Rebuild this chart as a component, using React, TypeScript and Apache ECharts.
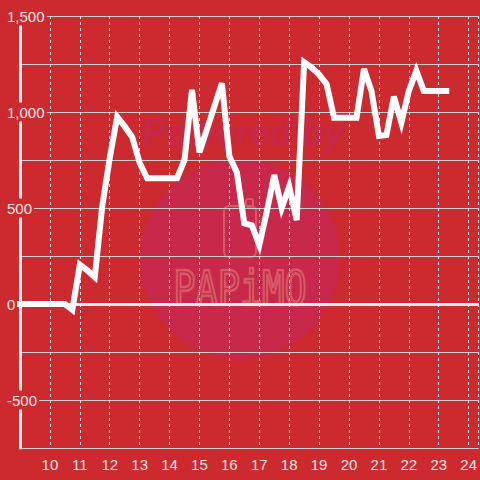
import React, { useEffect, useRef } from "react";
import * as echarts from "echarts";

const hours = [
  9, 9.25, 9.5, 9.75, 10, 10.25, 10.5, 10.75, 11, 11.25, 11.5, 11.75,
  12, 12.25, 12.5, 12.75, 13, 13.25, 13.5, 13.75, 14, 14.25, 14.5, 14.75,
  15, 15.25, 15.5, 15.75, 16, 16.25, 16.5, 16.75, 17, 17.25, 17.5, 17.75,
  18, 18.25, 18.5, 18.75, 19, 19.25, 19.5, 19.75, 20, 20.25, 20.5, 20.75,
  21, 21.25, 21.5, 21.75, 22, 22.25, 22.5, 22.75, 23, 23.25,
];
const values = [
  0, 0, 0, 0, 0, 0, 0, -30, 205, 175, 140, 510,
  760, 975, 925, 870, 735, 655, 655, 655, 655, 655, 750, 1115,
  790, 910, 1030, 1150, 770, 685, 420, 410, 307, 480, 672, 500,
  612, 437, 1260, 1232, 1195, 1145, 970, 970, 970, 970, 1224, 1110,
  875, 880, 1080, 945, 1110, 1215, 1110, 1110, 1110, 1110,
];
const yLabelValues = [1500, 1000, 500, 0, -500];
const xLabelValues = [10, 11, 12, 13, 14, 15, 16, 17, 18, 19, 20, 21, 22, 23, 24];

const BG = "#cc2a2f";
const LABEL = "#f5e4e4";

export default function App() {
  const ref = useRef<HTMLDivElement>(null);
  useEffect(() => {
    if (!ref.current) return;
    const chart = echarts.init(ref.current, undefined, { renderer: "svg" });
    const data = hours.map((h, i) => [h, values[i]]);
    chart.setOption({
      animation: false,
      backgroundColor: BG,
      textStyle: { fontFamily: "Liberation Sans, Arial, sans-serif" },
      grid: { left: 20, right: 0, top: 16, bottom: 32, containLabel: false },
      graphic: [
        {
          type: "circle",
          z: -10,
          shape: { cx: 240, cy: 259, r: 100 },
          style: { fill: "#c8284a" },
        },
        {
          type: "text",
          z: -9,
          x: 243,
          y: 132,
          style: {
            text: "Powered by",
            fill: "#c8284a",
            font: "italic bold 36px Liberation Sans, Arial, sans-serif",
            textAlign: "center",
            textVerticalAlign: "middle",
          },
        },
        {
          type: "rect",
          z: -9,
          shape: { x: 224, y: 206, width: 32, height: 51, r: 5 },
          style: { fill: "none", stroke: "#d65a66", lineWidth: 2 },
        },
        {
          type: "rect",
          z: -9,
          shape: { x: 246, y: 199, width: 7, height: 8, r: 2 },
          style: { fill: "none", stroke: "#d65a66", lineWidth: 2 },
        },
        {
          type: "text",
          z: -9,
          x: 240,
          y: 288,
          scaleY: 1.3,
          style: {
            text: "PAPiMO",
            fill: "none",
            stroke: "#d65a66",
            lineWidth: 2,
            font: "37px DejaVu Sans Mono, monospace",
            textAlign: "center",
            textVerticalAlign: "middle",
          },
        },
      ],
      xAxis: {
        type: "value",
        min: 9,
        max: 24.3333,
        interval: 1,
        axisLine: { show: false },
        axisTick: { show: false },
        splitLine: {
          show: true,
          lineStyle: { color: "#e6dede", width: 1, type: [3, 3] },
        },
        axisLabel: {
          color: LABEL,
          fontSize: 15,
          margin: 9,
          showMaxLabel: false,
          formatter: (v: number) => (xLabelValues.includes(v) ? String(v) : ""),
        },
      },
      yAxis: {
        type: "value",
        min: -750,
        max: 1500,
        interval: 250,
        axisLine: { show: true, lineStyle: { color: "#f2eeee", width: 3 } },
        axisTick: { show: false },
        splitLine: { show: true, lineStyle: { color: "#cfcaca", width: 1 } },
        axisLabel: {
          inside: true,
          margin: -15,
          color: LABEL,
          fontSize: 15,
          backgroundColor: BG,
          padding: [2, 2, 2, 2],
          formatter: (v: number) =>
            yLabelValues.includes(v) ? v.toLocaleString("en-US") : "",
        },
      },
      series: [
        {
          type: "line",
          data,
          symbol: "none",
          z: 5,
          lineStyle: { color: "#ffffff", width: 6, cap: "square", join: "miter" },
          markLine: {
            silent: true,
            symbol: ["none", "none"],
            label: { show: false },
            lineStyle: { color: "#f2eeee", width: 3, type: "solid" },
            data: [{ yAxis: 0 }],
            z: 3,
          },
        },
      ],
    });
    return () => chart.dispose();
  }, []);
  return (
    <div
      ref={ref}
      style={{ position: "fixed", left: 0, top: 0, width: 480, height: 480 }}
    />
  );
}
